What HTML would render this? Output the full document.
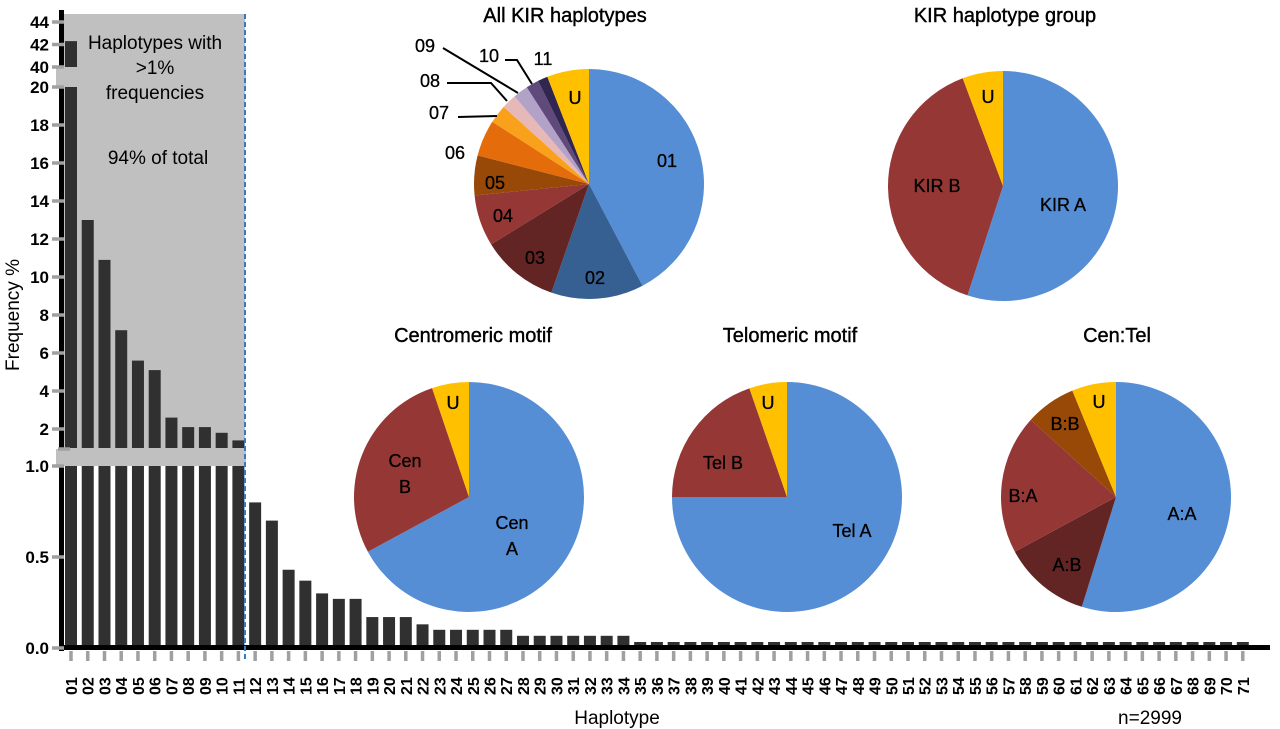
<!DOCTYPE html>
<html><head><meta charset="utf-8"><style>
html,body{margin:0;padding:0;background:#fff}
svg{display:block}
text{font-family:"Liberation Sans",sans-serif;fill:#000}
.tick{font-size:17px;font-weight:bold}
.ttl{font-size:20px;stroke:#000;stroke-width:0.4px}
.pl{font-size:18px;stroke:#000;stroke-width:0.3px}
</style></head><body>
<svg id="c" width="1280" height="729" viewBox="0 0 1280 729">
<rect x="62" y="14" width="183" height="452" fill="#c0c0c0"/>
<g id="bars"></g>
<g id="axes"></g>
<g id="pies"></g>
<text x="155" y="49" text-anchor="middle" style="font-size:19px">Haplotypes with</text>
<text x="155" y="74" text-anchor="middle" style="font-size:19px">&gt;1%</text>
<text x="155" y="99" text-anchor="middle" style="font-size:19px">frequencies</text>
<text x="158" y="164" text-anchor="middle" style="font-size:19px">94% of total</text>
<text transform="translate(19,315) rotate(-90)" text-anchor="middle" style="font-size:19px">Frequency %</text>
<text x="617" y="724" text-anchor="middle" style="font-size:19px">Haplotype</text>
<text x="1150" y="724" text-anchor="middle" style="font-size:19px">n=2999</text>
</svg>
<script>
const NS="http://www.w3.org/2000/svg";
const categories=[];for(let i=1;i<=71;i++)categories.push(String(i).padStart(2,'0'));
const freq=[42.3,13.0,10.9,7.2,5.6,5.1,2.6,2.1,2.1,1.8,1.4,0.8,0.7,0.43,0.37,0.3,0.27,0.27,0.17,0.17,0.17,0.13,0.1,0.1,0.1,0.1,0.1,0.067,0.067,0.067,0.067,0.067,0.067,0.067,
0.033,0.033,0.033,0.033,0.033,0.033,0.033,0.033,0.033,0.033,0.033,0.033,0.033,0.033,0.033,0.033,0.033,0.033,0.033,0.033,0.033,0.033,0.033,0.033,0.033,0.033,0.033,0.033,0.033,0.033,0.033,0.033,0.033,0.033,0.033,0.033,0.033];
const lowTicks=["0.0","0.5","1.0"];
const midTicks=["2","4","6","8","10","12","14","16","18","20"];
const topTicks=["40","42","44"];
const pieAllLabels=["01","02","03","04","05","06","07","08","09","10","11","U"];
const pieAllValues=[42.3,13.0,10.9,7.2,5.6,5.1,2.6,2.1,2.1,1.8,1.4,5.9];
const pieGroupLabels=["KIR A","KIR B","U"];
const pieGroupValues=[55.0,39.3,5.7];
const pieCenLabels=["Cen A","Cen B","U"];
const pieCenValues=[67.1,27.7,5.2];
const pieTelLabels=["Tel A","Tel B","U"];
const pieTelValues=[75.0,19.7,5.3];
const pieCTLabels=["A:A","A:B","B:A","B:B","U"];
const pieCTValues=[54.8,12.3,19.6,7.1,6.2];

function el(t,a,p){const e=document.createElementNS(NS,t);for(const k in a)e.setAttribute(k,a[k]);p.appendChild(e);return e;}
function yLow(v){return 648-v*182;}
function yMid(v){return 448-(v-1)*19;}
function yTop(v){return 67-(v-40)*11.25;}
function xBar(i){return 71+i*16.74;}
const bars=document.getElementById('bars'),axes=document.getElementById('axes');
freq.forEach((v,i)=>{
  const x=xBar(i)-6;
  const top=v<=1?yLow(v):yLow(1);
  let r=el('rect',{x:x,y:top,width:12,height:648-top,fill:'#303030'},bars);
  
  
  if(v>1){
    const t2=v<=20?yMid(v):yMid(20);
    r=el('rect',{x:x,y:t2,width:12,height:448-t2,fill:'#303030'},bars);
    
    
  }
  if(v>20){
    const t3=yTop(v);
    r=el('rect',{x:x,y:t3,width:12,height:67-t3,fill:'#303030'},bars);
    
    
  }
});
el('rect',{x:59,y:10,width:5,height:641,fill:'#000'},axes);
el('rect',{x:59,y:645,width:1211,height:5,fill:'#000'},axes);
el('rect',{x:56,y:449,width:190,height:17,fill:'#c0c0c0'},axes);
el('rect',{x:56,y:68,width:190,height:19,fill:'#c0c0c0'},axes);
el('line',{x1:245,y1:14,x2:245,y2:660,stroke:'#3b78c0','stroke-width':2,'stroke-dasharray':'5,3'},axes);
function ytick(y,lab){
  el('line',{x1:52,y1:y,x2:64,y2:y,stroke:'#a0a0a0','stroke-width':3.5},axes);
  const t=el('text',{x:49,y:y+6,'text-anchor':'end',class:'tick'},axes);t.textContent=lab;
  
  
}
lowTicks.forEach(l=>ytick(yLow(+l),l));
midTicks.forEach(l=>ytick(yMid(+l),l));
topTicks.forEach(l=>ytick(yTop(+l),l));
el('line',{x1:58,y1:449,x2:70,y2:449,stroke:'#a0a0a0','stroke-width':3.5},axes);
categories.forEach((c,i)=>{
  const x=xBar(i);
  el('line',{x1:x,y1:651,x2:x,y2:661,stroke:'#a0a0a0','stroke-width':3.5},axes);
  const t=el('text',{transform:`translate(${x+6},${695}) rotate(-90)`,class:'tick',style:'font-size:16px'},axes);
  t.textContent=c;
  
  
});
const pies=document.getElementById('pies');
function pie(name,cx,cy,r,vals,labs,cols,lpos,title,tx,ty){
  const g=el('g',{},pies);
  
  
  const tot=vals.reduce((a,b)=>a+b,0);let a0=0;
  vals.forEach((v,i)=>{
    const a1=a0+v/tot*2*Math.PI;
    const x0=cx+r*Math.sin(a0),y0=cy-r*Math.cos(a0),x1=cx+r*Math.sin(a1),y1=cy-r*Math.cos(a1);
    const p=el('path',{d:`M${cx},${cy}L${x0},${y0}A${r},${r} 0 ${a1-a0>Math.PI?1:0} 1 ${x1},${y1}Z`,fill:cols[i]},g);
    
    
    a0=a1;
  });
  labs.forEach((l,i)=>{
    const parts=lpos[i].length>2?lpos[i][2]:[l];
    parts.forEach((s,k)=>{
      const t=el('text',{x:lpos[i][0],y:lpos[i][1]+k*26,'text-anchor':'middle',class:'pl'},g);
      t.textContent=s;
      
      
    });
  });
  const t=el('text',{x:tx,y:ty,'text-anchor':'middle',class:'ttl'},g);t.textContent=title;
  
  
}
const B='#558ed5',R='#953735';
pie('pie-all-kir',589,184,115,pieAllValues,pieAllLabels,
 [B,'#376092','#632523',R,'#984807','#e46c0a','#f9a11b','#e6b9b8','#b3a2c7','#604a7b','#302650','#ffc000'],
 [[667,167],[595,284],[535,264],[503,222],[495,189],[455,159],[439,119],[430,87],[425,52],[489,62],[543,65],[575,104]],
 'All KIR haplotypes',565,22);
el('polyline',{points:'443,48 518,93',stroke:'#000','stroke-width':2,fill:'none'},pies);
el('polyline',{points:'447,83 491,83 507,101',stroke:'#000','stroke-width':2,fill:'none'},pies);
el('polyline',{points:'458,117 497,116',stroke:'#000','stroke-width':2,fill:'none'},pies);
el('polyline',{points:'505,60 517,60 532,84',stroke:'#000','stroke-width':2,fill:'none'},pies);
pie('pie-kir-group',1003,186,115,pieGroupValues,pieGroupLabels,[B,R,'#ffc000'],
 [[1063,211],[937,192],[988,103]],'KIR haplotype group',1005,22);
pie('pie-centromeric',469,497,115,pieCenValues,pieCenLabels,[B,R,'#ffc000'],
 [[512,529,['Cen','A']],[405,467,['Cen','B']],[453,409]],'Centromeric motif',473,342);
pie('pie-telomeric',787,497,115,pieTelValues,pieTelLabels,[B,R,'#ffc000'],
 [[852,537],[723,469],[768,409]],'Telomeric motif',790,342);
pie('pie-cen-tel',1116,497,115,pieCTValues,pieCTLabels,[B,'#632523',R,'#984807','#ffc000'],
 [[1182,520],[1067,571],[1023,502],[1065,430],[1099,408]],'Cen:Tel',1117,342);
</script>
</body></html>
